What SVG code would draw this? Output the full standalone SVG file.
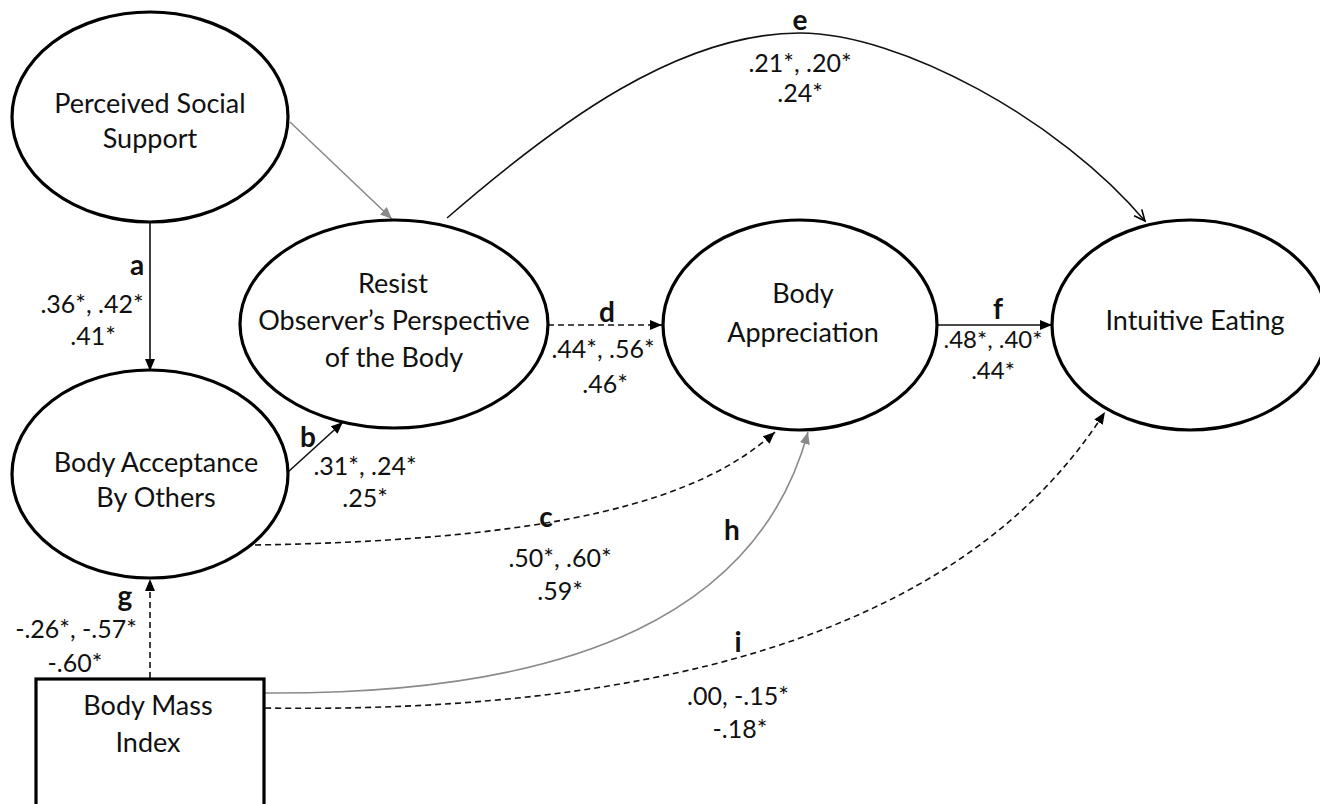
<svg xmlns="http://www.w3.org/2000/svg" width="1320" height="804" viewBox="0 0 1320 804">
<defs>
<style>
.node{fill:#fff;stroke:#000;stroke-width:3.2}
.nt{font-family:Lato,"Liberation Sans",sans-serif;font-size:27px;fill:#111;text-anchor:middle}
.num{font-family:Lato,"Liberation Sans",sans-serif;font-size:25px;fill:#111;text-anchor:middle}
.lab{font-family:Lato,"Liberation Sans",sans-serif;font-size:28px;font-weight:bold;fill:#111;text-anchor:middle}
.c{fill:none;stroke:#111;stroke-width:1.6}
.g{fill:none;stroke:#8a8a8a;stroke-width:1.6}
.d{stroke-dasharray:6,4}
</style>
<marker id="ab" markerUnits="userSpaceOnUse" markerWidth="13" markerHeight="11" refX="12" refY="5" orient="auto" viewBox="0 0 13 10">
<path d="M0,0 L12,5 L0,10 z" fill="#000"/>
</marker>
<marker id="ag" markerUnits="userSpaceOnUse" markerWidth="13" markerHeight="11" refX="12" refY="5" orient="auto" viewBox="0 0 13 10">
<path d="M0,0 L12,5 L0,10 z" fill="#8a8a8a"/>
</marker>
<marker id="ao" markerUnits="userSpaceOnUse" markerWidth="14" markerHeight="12" refX="12" refY="6" orient="auto" viewBox="0 0 14 12">
<path d="M1,1 L12,6 L1,11" fill="none" stroke="#000" stroke-width="1.6"/>
</marker>
</defs>
<rect width="1320" height="804" fill="#fff"/>

<g id="connectors">
<path class="c" d="M150,222 L150,371" marker-end="url(#ab)"/>
<path class="c d" d="M150,678 L150,579" marker-end="url(#ab)"/>
<path class="c" d="M288,472 L343,422" marker-end="url(#ab)"/>
<path class="g" d="M290,122 L392,219" marker-end="url(#ag)"/>
<path class="c d" d="M548,325 L662,325" marker-end="url(#ab)"/>
<path class="c" d="M938,325 L1052,325" marker-end="url(#ab)"/>
<path class="c" d="M447,218 C560,120 680,33 800,33 C900,33 1060,120 1145,221" marker-end="url(#ao)"/>
<path class="c d" d="M255,545 C560,540 700,500 775,432" marker-end="url(#ab)"/>
<path class="g" d="M265,693 C580,695 760,610 808,432" marker-end="url(#ag)"/>
<path class="c d" d="M265,708 C800,716 1010,560 1105,412" marker-end="url(#ab)"/>
<text class="lab" x="137" y="275">a</text>
<text class="num" x="92" y="313">.36*, .42*</text>
<text class="num" x="93" y="345">.41*</text>
<text class="lab" x="308" y="447">b</text>
<text class="num" x="365" y="475">.31*, .24*</text>
<text class="num" x="365" y="507">.25*</text>
<text class="lab" x="546" y="527">c</text>
<text class="num" x="560" y="567">.50*, .60*</text>
<text class="num" x="560" y="600">.59*</text>
<text class="lab" x="607" y="322">d</text>
<text class="num" x="603" y="358">.44*, .56*</text>
<text class="num" x="605" y="393">.46*</text>
<text class="lab" x="800" y="30">e</text>
<text class="num" x="800" y="72">.21*, .20*</text>
<text class="num" x="800" y="102">.24*</text>
<text class="lab" x="998" y="319">f</text>
<text class="num" x="993" y="348" style="font-size:24px">.48*, .40*</text>
<text class="num" x="993" y="379" style="font-size:24px">.44*</text>
<text class="lab" x="125" y="606">g</text>
<text class="num" x="76" y="638">-.26*, -.57*</text>
<text class="num" x="75" y="672">-.60*</text>
<text class="lab" x="732" y="540">h</text>
<text class="lab" x="738" y="652">i</text>
<text class="num" x="738" y="705">.00, -.15*</text>
<text class="num" x="740" y="738">-.18*</text>
</g>

<g id="pss">
<ellipse class="node" cx="150" cy="117" rx="138" ry="105"/>
<text class="nt" x="150" y="113">Perceived Social</text>
<text class="nt" x="150" y="148">Support</text>
</g>
<g id="resist">
<ellipse class="node" cx="394" cy="324" rx="154" ry="104"/>
<text class="nt" x="393" y="293">Resist</text>
<text class="nt" x="394" y="330">Observer’s Perspective</text>
<text class="nt" x="394" y="367">of the Body</text>
</g>
<g id="bao">
<ellipse class="node" cx="150" cy="474" rx="138" ry="104"/>
<text class="nt" x="156" y="472">Body Acceptance</text>
<text class="nt" x="156" y="507">By Others</text>
</g>
<g id="ba">
<ellipse class="node" cx="800" cy="325" rx="137" ry="105"/>
<text class="nt" x="803" y="303">Body</text>
<text class="nt" x="803" y="342">Appreciation</text>
</g>
<g id="ie">
<ellipse class="node" cx="1190" cy="325" rx="138" ry="105"/>
<text class="nt" x="1195" y="330">Intuitive Eating</text>
</g>
<g id="bmi">
<rect class="node" x="36" y="679" width="228" height="140"/>
<text class="nt" x="148" y="715">Body Mass</text>
<text class="nt" x="148" y="752">Index</text>
</g>
</svg>
